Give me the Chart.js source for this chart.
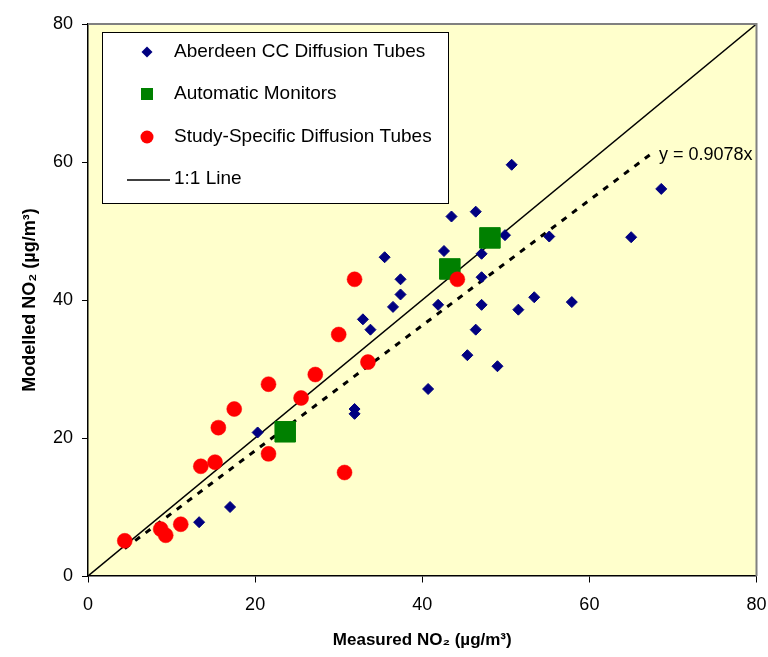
<!DOCTYPE html>
<html>
<head>
<meta charset="utf-8">
<script src="https://cdn.jsdelivr.net/npm/chart.js@4.4.1/dist/chart.umd.min.js"></script>
<style>
  html, body { margin: 0; padding: 0; background: #fff; overflow: hidden; }
  #wrap { width: 772px; height: 657px; }
</style>
</head>
<body>
<div id="wrap"><canvas id="grafico" width="772" height="657"></canvas></div>
<script>
const aberdeenX = [13.3, 17.0, 20.3, 31.9, 31.9, 40.7, 35.5, 37.4, 37.4, 36.5, 32.9, 33.8, 41.9, 42.6, 43.5, 46.4, 50.7, 47.1, 47.1, 47.1, 46.4, 45.4, 49.0, 49.9, 51.5, 53.4, 55.2, 57.9, 65.0, 68.6];
const aberdeenY = [7.8, 10.0, 20.8, 24.2, 23.5, 27.1, 46.2, 43.0, 40.8, 39.0, 37.2, 35.7, 39.3, 47.1, 52.1, 52.8, 59.6, 46.7, 43.3, 39.3, 35.7, 32.0, 30.4, 49.4, 38.6, 40.4, 49.2, 39.7, 49.1, 56.1];

const automaticosX = [23.6, 43.3, 48.1];
const automaticosY = [20.9, 44.5, 49.0];

const estudioX = [4.4, 8.7, 9.3, 11.1, 13.5, 15.2, 15.6, 17.5, 21.6, 21.6, 25.5, 27.2, 30.7, 30.0, 33.5, 31.9, 44.2];
const estudioY = [5.1, 6.8, 5.9, 7.5, 15.9, 16.5, 21.5, 24.2, 27.8, 17.7, 25.8, 29.2, 15.0, 35.0, 31.0, 43.0, 43.0];

const lineaUnoX = [0, 80];
const pendiente = 0.9078;
const tendenciaX = [4.4, 67.6];

const ticksEje = [0, 20, 40, 60, 80];

const etiquetas = ['Aberdeen CC Diffusion Tubes', 'Automatic Monitors', 'Study-Specific Diffusion Tubes', '1:1 Line'];

const fuente = '"Liberation Sans", Arial, sans-serif';

function puntos(xs, ys) {
    return xs.map((x, i) => ({ x: x, y: ys[i] }));
}

// Fondo amarillo y marco del área de dibujo
const fondoPlugin = {
    id: 'fondo',
    beforeDraw(chart) {
        const { ctx, chartArea: a } = chart;
        ctx.save();
        ctx.fillStyle = '#FFFFCC';
        ctx.fillRect(a.left, a.top, a.right - a.left, a.bottom - a.top);
        ctx.restore();
    },
    afterDraw(chart) {
        const { ctx, chartArea: a } = chart;
        ctx.save();
        ctx.strokeStyle = '#808080';
        ctx.lineWidth = 2;
        ctx.beginPath();
        ctx.moveTo(a.left, a.top);
        ctx.lineTo(a.right, a.top);
        ctx.lineTo(a.right, a.bottom);
        ctx.stroke();
        ctx.restore();
    }
};

// Leyenda dentro del gráfico y etiqueta de la ecuación
const leyendaPlugin = {
    id: 'leyendaInterna',
    afterDraw(chart) {
        const ctx = chart.ctx;
        const xs = chart.scales.x, ys = chart.scales.y;
        ctx.save();

        // ecuación al final de la línea de tendencia
        const xFin = tendenciaX[tendenciaX.length - 1];
        ctx.fillStyle = '#000';
        ctx.font = '18px ' + fuente;
        ctx.textBaseline = 'middle';
        ctx.textAlign = 'left';
        ctx.fillText('y = ' + pendiente + 'x', xs.getPixelForValue(xFin) + 6, ys.getPixelForValue(pendiente * xFin) + 2);

        // caja
        const bx = 102, by = 32, bw = 346, bh = 171;
        ctx.fillStyle = '#fff';
        ctx.fillRect(bx, by, bw, bh);
        ctx.strokeStyle = '#000';
        ctx.lineWidth = 1;
        ctx.strokeRect(bx + 0.5, by + 0.5, bw, bh);

        const filas = [52, 94, 137, 179];
        const mx = 147;
        ctx.font = '19px ' + fuente;
        filas.forEach((fy, i) => {
            ctx.fillStyle = '#000';
            ctx.fillText(etiquetas[i], 174, fy);
        });
        // diamante
        ctx.fillStyle = '#000080';
        ctx.beginPath();
        ctx.moveTo(mx - 5.5, filas[0]); ctx.lineTo(mx, filas[0] - 5.5);
        ctx.lineTo(mx + 5.5, filas[0]); ctx.lineTo(mx, filas[0] + 5.5);
        ctx.closePath(); ctx.fill();
        // cuadrado
        ctx.fillStyle = '#008000';
        ctx.fillRect(mx - 6, filas[1] - 6, 12, 12);
        // círculo
        ctx.fillStyle = '#FF0000';
        ctx.beginPath();
        ctx.arc(mx, filas[2], 6.5, 0, Math.PI * 2);
        ctx.fill();
        // línea
        ctx.strokeStyle = '#000';
        ctx.lineWidth = 1.5;
        ctx.beginPath();
        ctx.moveTo(127, filas[3] + 1); ctx.lineTo(170, filas[3] + 1);
        ctx.stroke();
        ctx.restore();
    }
};

const ctx = document.getElementById('grafico').getContext('2d');
const chart = new Chart(ctx, {
    type: 'scatter',
    data: {
        datasets: [
            {
                type: 'line',
                label: '1:1 Line',
                data: lineaUnoX.map(x => ({ x: x, y: x })),
                borderColor: '#000',
                borderWidth: 1.5,
                pointRadius: 0,
                fill: false,
                order: 5
            },
            {
                type: 'line',
                label: 'Tendencia',
                data: tendenciaX.map(x => ({ x: x, y: pendiente * x })),
                borderColor: '#000',
                borderWidth: 3,
                borderDash: [6, 7],
                pointRadius: 0,
                fill: false,
                order: 4
            },
            {
                label: etiquetas[0],
                data: puntos(aberdeenX, aberdeenY),
                pointStyle: 'rectRot',
                pointRadius: 5.5,
                backgroundColor: '#000080',
                borderColor: '#000080',
                borderWidth: 1,
                order: 3
            },
            {
                label: etiquetas[1],
                data: puntos(automaticosX, automaticosY),
                pointStyle: 'rect',
                pointRadius: 14.5,
                backgroundColor: '#008000',
                borderColor: '#008000',
                borderWidth: 1,
                order: 2
            },
            {
                label: etiquetas[2],
                data: puntos(estudioX, estudioY),
                pointStyle: 'circle',
                pointRadius: 7.5,
                backgroundColor: '#FF0000',
                borderColor: '#FF0000',
                borderWidth: 0.5,
                order: 1
            }
        ]
    },
    options: {
        responsive: false,
        animation: false,
        devicePixelRatio: 1,
        layout: { padding: { top: 24, right: 11, left: 0, bottom: 0 } },
        plugins: {
            legend: { display: false },
            tooltip: { enabled: false }
        },
        scales: {
            x: {
                type: 'linear',
                min: 0,
                max: 80,
                afterBuildTicks: s => { s.ticks = ticksEje.map(v => ({ value: v })); },
                afterFit: s => { s.height = 81; },
                // marca de 6px visible, el resto del largo sólo separa la etiqueta
                grid: { display: true, drawOnChartArea: false, drawTicks: true, tickLength: 18, tickBorderDash: [6, 40], color: '#000' },
                border: { display: true, color: '#000', width: 1.5 },
                ticks: {
                    color: '#000',
                    padding: 0,
                    font: { family: fuente, size: 18 }
                },
                title: {
                    display: true,
                    text: 'Measured NO₂ (µg/m³)',
                    color: '#000',
                    padding: { top: 0, bottom: 6 },
                    font: { family: fuente, size: 17, weight: 'bold' }
                }
            },
            y: {
                type: 'linear',
                min: 0,
                max: 80,
                afterBuildTicks: s => { s.ticks = ticksEje.map(v => ({ value: v })); },
                afterFit: s => { s.width = 88; },
                grid: { display: true, drawOnChartArea: false, drawTicks: true, tickLength: 6, color: '#000' },
                border: { display: true, color: '#000', width: 1.5 },
                ticks: {
                    color: '#000',
                    padding: 9,
                    font: { family: fuente, size: 18 }
                },
                title: {
                    display: true,
                    text: 'Modelled NO₂ (µg/m³)',
                    color: '#000',
                    padding: { top: 19, bottom: 0 },
                    font: { family: fuente, size: 18, weight: 'bold' }
                }
            }
        }
    },
    plugins: [fondoPlugin, leyendaPlugin]
});
</script>
</body>
</html>
